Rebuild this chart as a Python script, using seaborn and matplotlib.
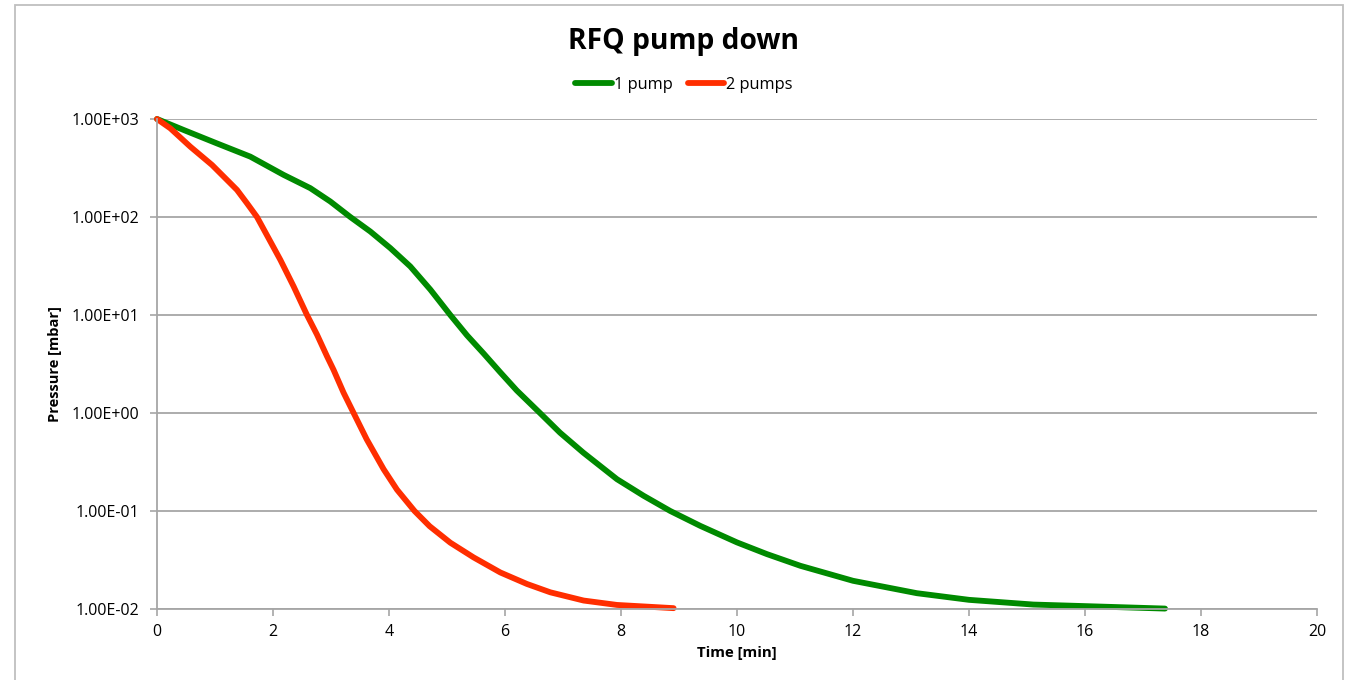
import matplotlib
matplotlib.use("Agg")
import matplotlib.pyplot as plt
from matplotlib.patches import Rectangle
from matplotlib.lines import Line2D
from matplotlib.ticker import FixedLocator, FuncFormatter, NullLocator
import seaborn as sns
import pandas as pd

# ---- data ----
time_1pump = [0, 0.459, 1.029, 1.609, 2.183, 2.643, 2.988, 3.333, 3.678, 4.022,
              4.367, 4.712, 5.057, 5.345, 5.631, 5.919, 6.202, 6.603, 6.948,
              7.350, 7.931, 8.390, 8.850, 9.367, 10.0, 10.517, 11.092, 12.0,
              13.1, 14.0, 15.11, 16.0, 17.38]
press_1pump = [1000, 773, 565, 413, 269, 197, 144, 100, 71.1, 48.2,
               31.3, 18.2, 10.0, 6.2, 4.05, 2.6, 1.70, 1.0, 0.630,
               0.394, 0.211, 0.143, 0.100, 0.0705, 0.0478, 0.0363, 0.0276, 0.0194,
               0.0145, 0.0124, 0.0111, 0.0107, 0.0101]

time_2pumps = [0, 0.229, 0.574, 0.948, 1.207, 1.379, 1.552, 1.724, 1.922, 2.126,
               2.355, 2.586, 2.759, 2.931, 3.045, 3.217, 3.390, 3.616, 3.907,
               4.138, 4.44, 4.70, 5.057, 5.459, 5.919, 6.379, 6.781, 7.355,
               7.931, 8.907]
press_2pumps = [1000, 804, 522, 340, 239, 189, 138, 100, 61.0, 36.6,
                19.6, 10.0, 6.3, 3.79, 2.75, 1.61, 1.0, 0.538, 0.267,
                0.165, 0.100, 0.070, 0.0475, 0.0336, 0.0236, 0.0180, 0.0148, 0.0122,
                0.0110, 0.0102]

series_names = ["1 pump", "2 pumps"]
series_colors = ["#008A00", "#FF2E00"]
x_ticks = [0, 2, 4, 6, 8, 10, 12, 14, 16, 18, 20]
y_ticks = [1e-2, 1e-1, 1e0, 1e1, 1e2, 1e3]

title = "RFQ pump down"
x_label = "Time [min]"
y_label = "Pressure [mbar]"

df = pd.concat([
    pd.DataFrame({"t": time_1pump, "p": press_1pump, "series": series_names[0]}),
    pd.DataFrame({"t": time_2pumps, "p": press_2pumps, "series": series_names[1]}),
], ignore_index=True)

sns.set_theme(style="white")
plt.rcParams["font.family"] = ["Open Sans", "DejaVu Sans"]
plt.rcParams["text.color"] = "black"
plt.rcParams["axes.labelcolor"] = "black"

W, H = 1349, 680
fig = plt.figure(figsize=(W / 100, H / 100), dpi=100)
ax = fig.add_axes([157 / W, 1 - 609 / H, (1317 - 157) / W, (609 - 119) / H])

LW = 4.2
sns.lineplot(data=df, x="t", y="p", hue="series", hue_order=series_names,
             palette=dict(zip(series_names, series_colors)), ax=ax,
             linewidth=LW, legend=False, sort=False, estimator=None)
for ln in ax.get_lines():
    ln.set_clip_on(False)
    ln.set_solid_capstyle("round")
    ln.set_solid_joinstyle("round")

ax.set_yscale("log")
ax.set_ylim(1e-2, 1e3)
ax.set_xlim(0, 20)
ax.xaxis.set_major_locator(FixedLocator(x_ticks))
ax.yaxis.set_major_locator(FixedLocator(y_ticks))
ax.yaxis.set_minor_locator(NullLocator())
ax.yaxis.set_major_formatter(FuncFormatter(lambda v, pos: f"{v:.2E}"))

grid_c = "#A6A6A6"
ax.grid(axis="y", color=grid_c, linewidth=1.3)
ax.grid(axis="x", visible=False)
ax.set_axisbelow(True)
for s in ["top", "right"]:
    ax.spines[s].set_visible(False)
for s in ["left", "bottom"]:
    ax.spines[s].set_color(grid_c)
    ax.spines[s].set_linewidth(1.3)
ax.tick_params(axis="both", which="major", direction="out", length=5, width=1.2,
               color=grid_c, labelsize=11.5, labelcolor="black",
               left=True, bottom=True)
ax.tick_params(axis="y", pad=7.5)
ax.tick_params(axis="x", pad=5.5)

ax.set_xlabel(x_label, fontsize=10.8, fontweight="bold")
ax.xaxis.label.set_va("center")
ax.xaxis.set_label_coords(0.5, (609 - 653.5) / 490)
ax.set_ylabel(y_label, fontsize=10.5, fontweight="bold")
ax.yaxis.label.set_va("center")
ax.yaxis.set_label_coords((55 - 157) / 1160, 0.5)

fig.text(683 / W, 1 - 41 / H, title, ha="center", va="center",
         fontsize=20.3, fontweight="bold", color="black")

handles = [Line2D([], [], color=c, linewidth=LW, solid_capstyle="round")
           for c in series_colors]
fig.legend(handles, series_names, loc="center", bbox_to_anchor=(684 / W, 1 - 85 / H),
           ncol=2, frameon=False, fontsize=11.8, handlelength=2.2,
           handletextpad=0.15, columnspacing=0.9)

fig.patches.append(Rectangle((15 / W, -0.05), (1343 - 15) / W, 0.05 + 1 - 5 / H,
                             transform=fig.transFigure, fill=False,
                             edgecolor="#BFBFBF", linewidth=1.3))

fig.savefig("out.png", dpi=100)
